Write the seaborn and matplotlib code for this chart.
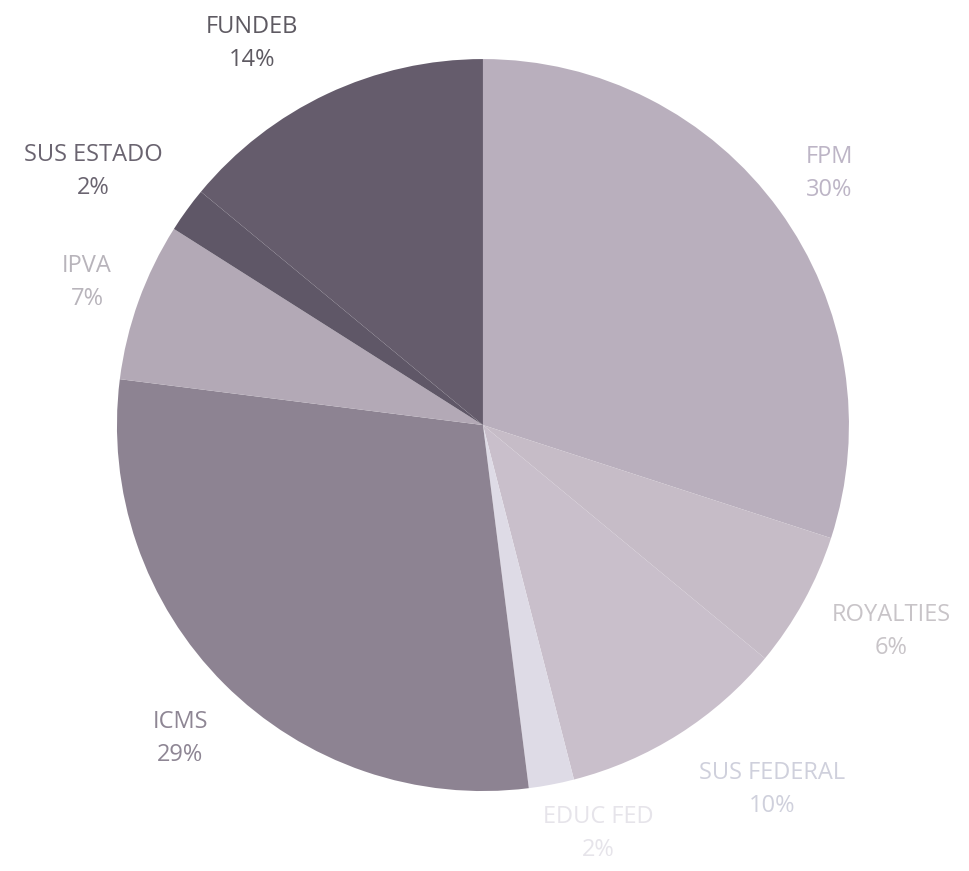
import matplotlib
matplotlib.use("Agg")
import matplotlib.pyplot as plt
import numpy as np
import seaborn as sns

# revenue shares (clockwise from the top)
labels = ["FPM", "ROYALTIES", "SUS FEDERAL", "EDUC FED", "ICMS", "IPVA", "SUS ESTADO", "FUNDEB"]
shares = [30, 6, 10, 2, 29, 7, 2, 14]
slice_colors = ["#b9afbd", "#c6bcc7", "#c9bfcb", "#dedbe6", "#8d8392", "#b3a9b6", "#5f5767", "#655c6c"]
text_colors = ["#bdb5c6", "#c8c4c8", "#cfd0dc", "#e6e4ea", "#8e8694", "#b8b4bb", "#6a6470", "#5e5a62"]
# label placement: distance from centre (radii) and angle nudge (degrees)
label_dist = [1.17, 1.25, 1.27, 1.16, 1.19, 1.15, 1.27, 1.22]
label_nudge = [0, 2, 6, 5, 1, 0, 3, 6]

sns.set_style("white")
plt.rcParams["font.family"] = ["Open Sans", "DejaVu Sans"]

fig = plt.figure(figsize=(9.69, 8.71), dpi=100)
ax = fig.add_axes([0.1207, 0.0918, 0.7554, 0.8404])

texts = [f"{l}\n{s}%" for l, s in zip(labels, shares)]
wedges, lbls = ax.pie(shares, labels=texts, colors=slice_colors, startangle=90,
                      counterclock=False, wedgeprops={"linewidth": 0},
                      textprops={"fontsize": 17, "linespacing": 1.5})

for w, t, c, d, n in zip(wedges, lbls, text_colors, label_dist, label_nudge):
    ang = np.deg2rad((w.theta1 + w.theta2) / 2 + n)
    t.set_position((d * np.cos(ang), d * np.sin(ang)))
    t.set_color(c)
    t.set_horizontalalignment("center")
    t.set_verticalalignment("center")

ax.set_xlim(-1, 1)
ax.set_ylim(-1, 1)
ax.axis("off")

fig.savefig("out.png", dpi=100)
